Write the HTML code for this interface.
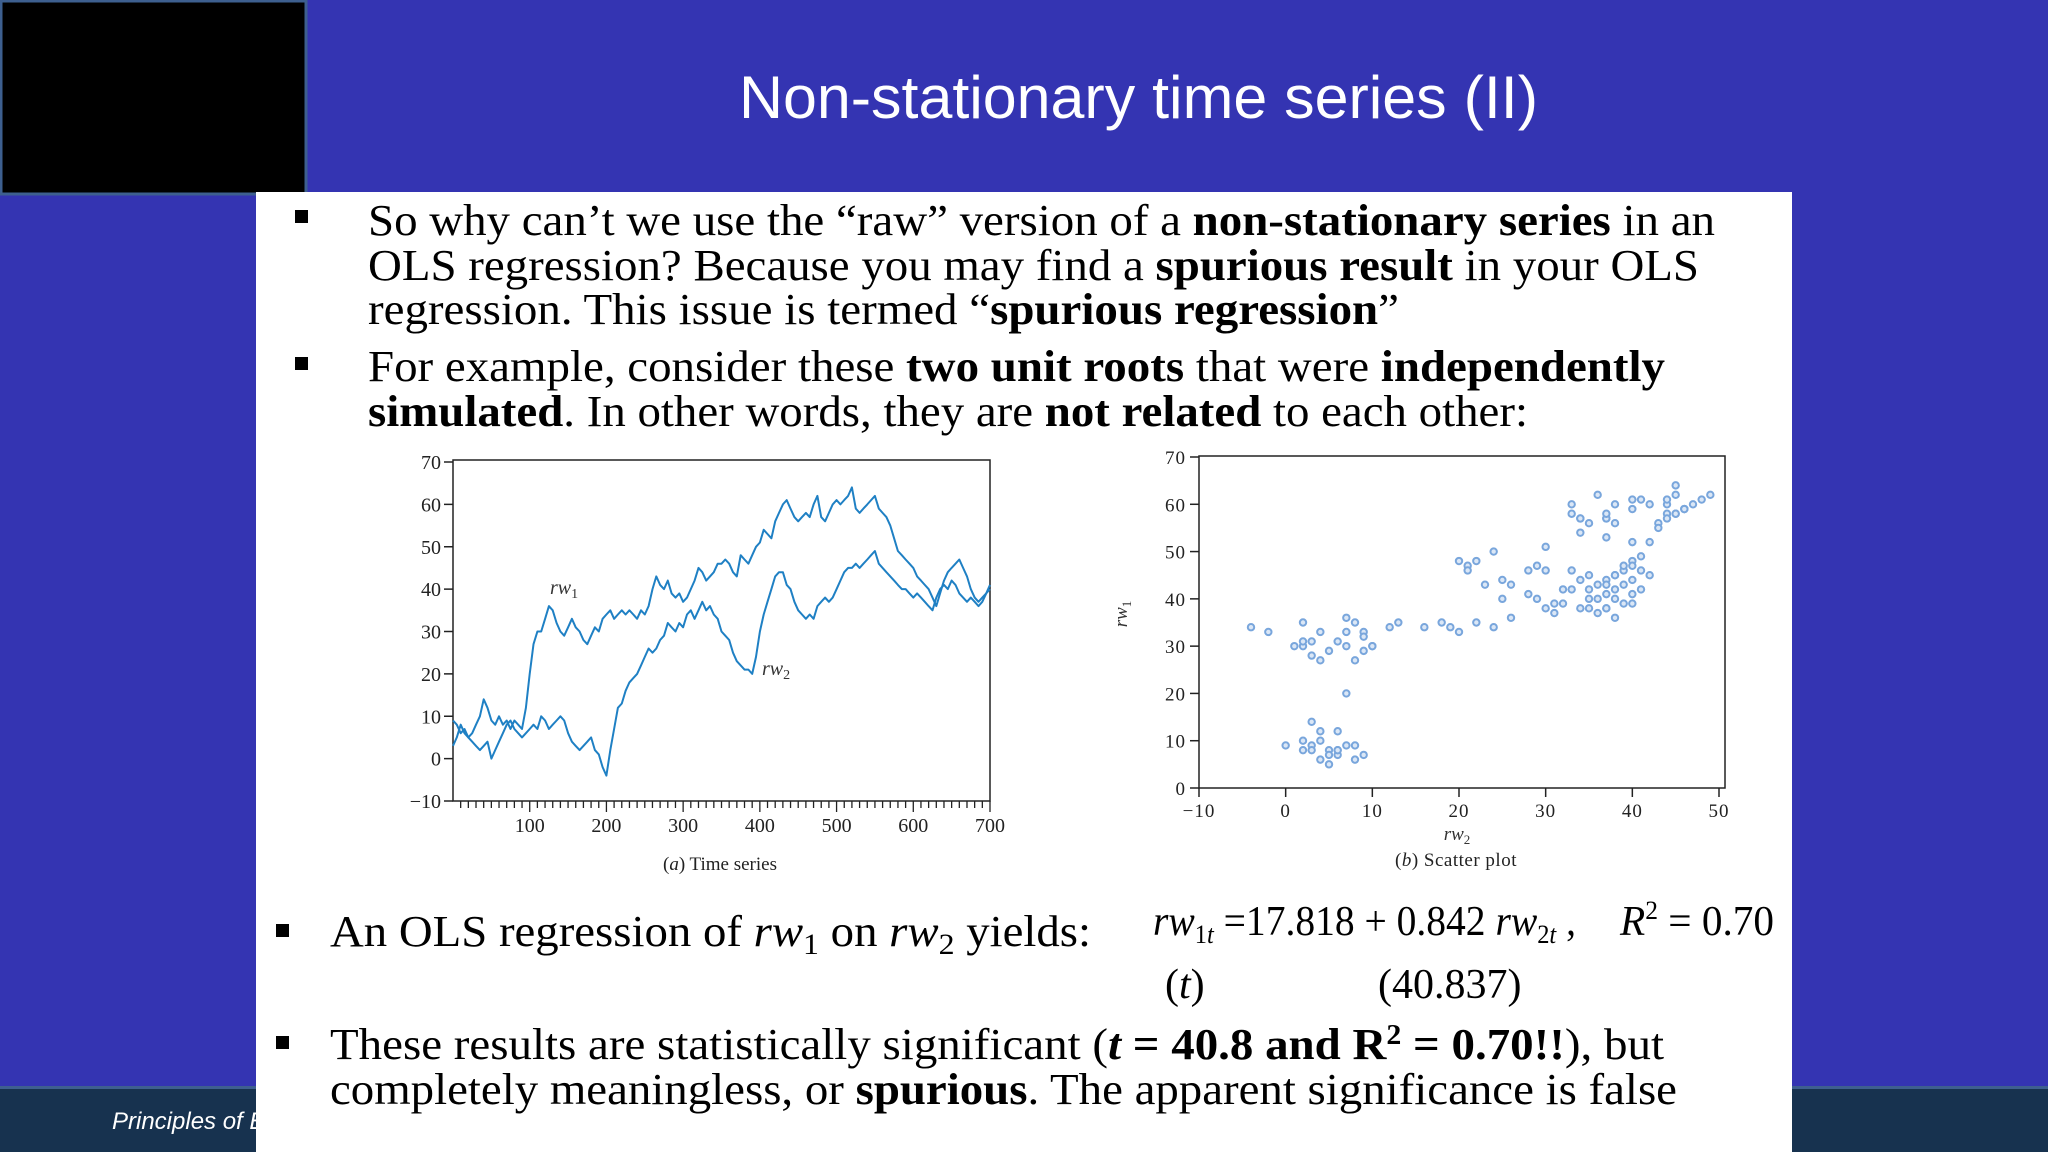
<!DOCTYPE html>
<html><head><meta charset="utf-8"><style>
html,body{margin:0;padding:0;background:#3434b2;}
svg{display:block;}
.serif{font-family:"Liberation Serif","Times New Roman",serif;}
</style></head><body>
<svg id="slide" width="2048" height="1152" viewBox="0 0 2048 1152" xmlns="http://www.w3.org/2000/svg">
<rect x="0" y="0" width="2048" height="1152" fill="#3434b2"/>
<rect x="1" y="1" width="305" height="193" fill="#000" stroke="#3d5f8f" stroke-width="3"/>
<text x="739" y="118" font-family="Liberation Sans, DejaVu Sans, sans-serif" font-size="60" fill="#fff" textLength="799" lengthAdjust="spacingAndGlyphs">Non-stationary time series (II)</text>
<rect x="0" y="1088" width="2048" height="64" fill="#17324f"/>
<rect x="0" y="1086" width="2048" height="3" fill="#3e5f8f"/>
<text x="112" y="1129" font-family="Liberation Sans, sans-serif" font-style="italic" font-size="24" fill="#fff">Principles of Econometrics</text>
<rect x="256" y="192" width="1536" height="960" fill="#fff"/>

<g class="serif" font-size="44" fill="#000">
<rect x="295" y="210" width="13" height="13"/>
<text x="368" y="235" textLength="1347" lengthAdjust="spacingAndGlyphs">So why can’t we use the “raw” version of a <tspan font-weight="bold">non-stationary series</tspan> in an</text>
<text x="368" y="280" textLength="1331" lengthAdjust="spacingAndGlyphs">OLS regression? Because you may find a <tspan font-weight="bold">spurious result</tspan> in your OLS</text>
<text x="368" y="324" textLength="1031" lengthAdjust="spacingAndGlyphs">regression. This issue is termed “<tspan font-weight="bold">spurious regression</tspan>”</text>
<rect x="295" y="357" width="13" height="13"/>
<text x="368" y="381" textLength="1297" lengthAdjust="spacingAndGlyphs">For example, consider these <tspan font-weight="bold">two unit roots</tspan> that were <tspan font-weight="bold">independently</tspan></text>
<text x="368" y="426" textLength="1160" lengthAdjust="spacingAndGlyphs"><tspan font-weight="bold">simulated</tspan>. In other words, they are <tspan font-weight="bold">not related</tspan> to each other:</text>
<rect x="276" y="924" width="13" height="13"/>
<text x="330" y="946" textLength="761" lengthAdjust="spacingAndGlyphs">An OLS regression of <tspan font-style="italic">rw</tspan><tspan font-size="30" dy="8">1</tspan><tspan dy="-8"> on </tspan><tspan font-style="italic">rw</tspan><tspan font-size="30" dy="8">2</tspan><tspan dy="-8"> yields:</tspan></text>
<text x="1153" y="935" font-size="42" textLength="423" lengthAdjust="spacingAndGlyphs"><tspan font-style="italic">rw</tspan><tspan font-size="26" dy="8">1<tspan font-style="italic">t</tspan></tspan><tspan dy="-8"> =17.818 + 0.842 </tspan><tspan font-style="italic">rw</tspan><tspan font-size="26" dy="8">2<tspan font-style="italic">t</tspan></tspan><tspan dy="-8"> ,</tspan></text>
<text x="1620" y="935" font-size="42" textLength="154" lengthAdjust="spacingAndGlyphs"><tspan font-style="italic">R</tspan><tspan font-size="26" dy="-16">2</tspan><tspan dy="16"> = 0.70</tspan></text>
<text x="1165" y="998" font-size="42">(<tspan font-style="italic">t</tspan>)</text>
<text x="1378" y="998" font-size="42">(40.837)</text>
<rect x="276" y="1036" width="13" height="13"/>
<text x="330" y="1059" textLength="1334" lengthAdjust="spacingAndGlyphs">These results are statistically significant (<tspan font-weight="bold" font-style="italic">t</tspan><tspan font-weight="bold"> = 40.8 and R</tspan><tspan font-weight="bold" font-size="28" dy="-15">2</tspan><tspan font-weight="bold" dy="15"> = 0.70!!</tspan>), but</text>
<text x="330" y="1104" textLength="1347" lengthAdjust="spacingAndGlyphs">completely meaningless, or <tspan font-weight="bold">spurious</tspan>. The apparent significance is false</text>
</g>

<g id="tsChart" class="serif"></g>
<g id="scChart" class="serif"></g>
</svg>
<script>
const timeStart = 0;
const timeEnd = 700;
const rw1Values = [9,8,6,7,5,6,8,10,14,12,9,8,10,8,9,7,9,8,7,12,20,27,30,30,33,36,35,32,30,29,31,33,31,30,28,27,29,31,30,33,34,35,33,34,35,34,35,34,33,35,34,36,40,43,41,40,42,39,38,39,37,38,40,42,45,44,42,43,44,46,46,47,46,44,43,48,47,46,48,50,51,54,53,52,56,58,60,61,59,57,56,57,58,57,60,62,57,56,58,60,61,60,61,62,64,59,58,59,60,61,62,59,58,57,55,52,49,48,47,46,45,43,42,41,40,38,36,39,42,44,45,46,47,45,43,40,38,37,38,39,41];
const rw2Values = [3,5,8,6,5,4,3,2,3,4,0,2,4,6,8,9,7,6,5,6,7,8,7,10,9,7,8,9,10,9,6,4,3,2,3,4,5,2,1,-2,-4,2,7,12,13,16,18,19,20,22,24,26,25,26,28,29,32,31,30,32,31,34,35,33,35,37,35,36,34,33,30,29,28,25,23,22,21,21,20,24,30,34,37,40,43,44,44,41,40,37,35,34,33,34,33,36,37,38,37,38,40,42,44,45,45,46,45,46,47,48,49,46,45,44,43,42,41,40,40,39,38,39,38,37,36,35,38,40,41,40,42,41,39,38,37,38,37,36,37,39,40];
const tsYTicks = [-10,0,10,20,30,40,50,60,70];
const tsXTicks = [100,200,300,400,500,600,700];
const scXTicks = [-10,0,10,20,30,40,50];
const scYTicks = [0,10,20,30,40,50,60,70];

const NS = 'http://www.w3.org/2000/svg';
function mk(parent, tag, attrs, text){
  const e = document.createElementNS(NS, tag);
  for (const k in attrs) e.setAttribute(k, attrs[k]);
  if (text !== undefined) e.textContent = text;
  parent.appendChild(e);
  return e;
}

/* ---- time series chart ---- */
const ts = document.getElementById('tsChart');
const tsL = 453, tsR = 990, tsT = 460, tsB = 801;
const tx = t => tsL + (t - timeStart) / (timeEnd - timeStart) * (tsR - tsL);
const ty = v => tsB - (v - (-10)) / 80 * (tsB - 462) ;
let fr = mk(ts, 'rect', {x: tsL, y: tsT, width: tsR - tsL, height: tsB - tsT, fill: 'none', stroke: '#222', 'stroke-width': 1.5});


tsYTicks.forEach(v => {
  const l = mk(ts, 'line', {x1: tsL - 9, x2: tsL, y1: ty(v), y2: ty(v), stroke: '#222', 'stroke-width': 1.5});
  
  
  const lab = mk(ts, 'text', {x: tsL - 12, y: ty(v) + 7, 'text-anchor': 'end', 'font-size': 20, fill: '#222'}, v < 0 ? '\u2212' + (-v) : String(v));
  
  
});
for (let t = 10; t <= 700; t += 10) {
  const major = t % 100 === 0;
  const l = mk(ts, 'line', {x1: tx(t), x2: tx(t), y1: tsB, y2: tsB + (major ? 11 : 7), stroke: '#222', 'stroke-width': 1.3});
  
  
}
tsXTicks.forEach(v => {
  const lab = mk(ts, 'text', {x: tx(v), y: 832, 'text-anchor': 'middle', 'font-size': 20, fill: '#222'}, String(v));
  
  
});
function seriesPath(vals){
  const step = (timeEnd - timeStart) / (vals.length - 1);
  return vals.map((v, i) => (i ? 'L' : 'M') + tx(timeStart + i * step).toFixed(1) + ' ' + ty(v).toFixed(1)).join(' ');
}
const p1 = mk(ts, 'path', {d: seriesPath(rw1Values), fill: 'none', stroke: '#1f80c4', 'stroke-width': 2, 'stroke-linejoin': 'round'});


const p2 = mk(ts, 'path', {d: seriesPath(rw2Values), fill: 'none', stroke: '#1f80c4', 'stroke-width': 2, 'stroke-linejoin': 'round'});


const l1 = mk(ts, 'text', {x: 550, y: 594, 'font-size': 20, 'font-style': 'italic', fill: '#333'}, 'rw');


mk(l1, 'tspan', {'font-size': 14, dy: 4, 'font-style': 'normal'}, '1');
const l2 = mk(ts, 'text', {x: 762, y: 675, 'font-size': 20, 'font-style': 'italic', fill: '#333'}, 'rw');


mk(l2, 'tspan', {'font-size': 14, dy: 4, 'font-style': 'normal'}, '2');
const cap1 = mk(ts, 'text', {x: 720, y: 870, 'text-anchor': 'middle', 'font-size': 19, fill: '#222'}, '(');


mk(cap1, 'tspan', {'font-style': 'italic'}, 'a');
mk(cap1, 'tspan', {}, ') Time series');

/* ---- scatter chart ---- */
const sc = document.getElementById('scChart');
const sL = 1199, sR = 1725, sT = 456, sB = 788;
const sx = v => 1199 + (v - (-10)) / 60 * (1719 - 1199);
const sy = v => sB - v / 70 * (sB - 457);
const fr2 = mk(sc, 'rect', {x: sL, y: sT, width: sR - sL, height: sB - sT, fill: 'none', stroke: '#222', 'stroke-width': 1.5});


scYTicks.forEach(v => {
  const l = mk(sc, 'line', {x1: sL - 9, x2: sL, y1: sy(v), y2: sy(v), stroke: '#222', 'stroke-width': 1.5});
  
  
  const lab = mk(sc, 'text', {x: sL - 13, y: sy(v) + 7, 'text-anchor': 'end', 'font-size': 19, fill: '#222', 'letter-spacing': 1}, String(v));
  
  
});
scXTicks.forEach(v => {
  const l = mk(sc, 'line', {x1: sx(v), x2: sx(v), y1: sB, y2: sB + 9, stroke: '#222', 'stroke-width': 1.5});
  
  
  const lab = mk(sc, 'text', {x: sx(v), y: 817, 'text-anchor': 'middle', 'font-size': 19, fill: '#222', 'letter-spacing': 1}, v < 0 ? '\u2212' + (-v) : String(v));
  
  
});
rw1Values.forEach((v, i) => {
  const c = mk(sc, 'circle', {cx: sx(rw2Values[i]), cy: sy(v), r: 3.2, fill: '#dbe7f6', stroke: '#79a6dc', 'stroke-width': 2});
  
  
});
const xl = mk(sc, 'text', {x: 1457, y: 840, 'text-anchor': 'middle', 'font-size': 19, 'font-style': 'italic', fill: '#333'}, 'rw');


mk(xl, 'tspan', {'font-size': 13, dy: 4, 'font-style': 'normal'}, '2');
const yl = mk(sc, 'text', {x: 0, y: 0, 'text-anchor': 'middle', 'font-size': 19, 'font-style': 'italic', fill: '#333', transform: 'translate(1127,614) rotate(-90)'}, 'rw');


mk(yl, 'tspan', {'font-size': 13, dy: 4, 'font-style': 'normal'}, '1');
const cap2 = mk(sc, 'text', {x: 1456, y: 866, 'text-anchor': 'middle', 'font-size': 19, fill: '#222', 'letter-spacing': 0.5}, '(');


mk(cap2, 'tspan', {'font-style': 'italic'}, 'b');
mk(cap2, 'tspan', {}, ') Scatter plot');
</script>
</body></html>
